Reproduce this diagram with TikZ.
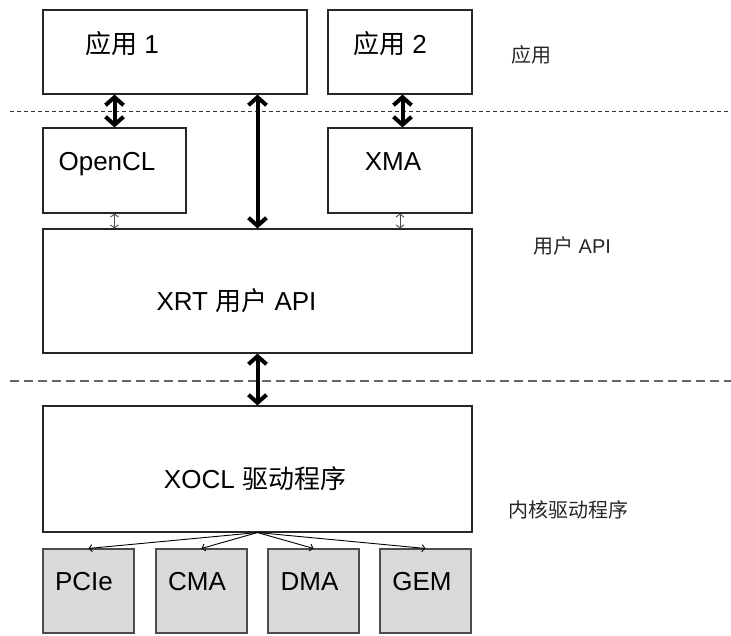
\documentclass[tikz,border=0pt]{standalone}
\usepackage{fontspec}
\setmainfont{Liberation Sans}
\newfontfamily\cjk{Noto Sans CJK SC}
\usetikzlibrary{arrows.meta}
\begin{document}
\begin{tikzpicture}[x=1pt,y=-1pt,
  box/.style={draw=black!85, line width=1.1pt, fill=white, inner sep=0pt},
  gbox/.style={draw=black!70, line width=1.1pt, fill=black!15, inner sep=0pt, minimum width=91pt, minimum height=84pt},
  big/.style={font=\fontsize{26}{30}\selectfont, inner sep=0pt, anchor=base},
  side/.style={font=\fontsize{20}{24}\selectfont, inner sep=0pt, text=black!85},
  dbl/.style={line width=4pt, {Straight Barb[length=8pt,width=18pt]}-{Straight Barb[length=8pt,width=18pt]}},
  slim/.style={line width=0.9pt, draw=black!70, {Straight Barb[length=3pt,width=8pt]}-{Straight Barb[length=3pt,width=8pt]}},
  fan/.style={line width=0.9pt, -{Straight Barb[length=3pt,width=7pt]}},
]
\useasboundingbox (0,0) rectangle (731,635);

% dashed separators
\draw[black!80, line width=0.9pt, dash pattern=on 4pt off 3pt] (10,111) -- (731,111);
\draw[black!60, line width=1.3pt, dash pattern=on 9pt off 5pt] (10,381) -- (731,381);

% boxes
\node[box, minimum width=264pt, minimum height=84pt] (app1) at (175,52) {};
\node[box, minimum width=144pt, minimum height=84pt] (app2) at (400,52) {};
\node[box, minimum width=143pt, minimum height=85pt] (opencl) at (114.5,170.5) {};
\node[box, minimum width=144pt, minimum height=85pt] (xma) at (400,170.5) {};
\node[box, minimum width=429pt, minimum height=124pt] (xrt) at (257.5,291) {};
\node[box, minimum width=429pt, minimum height=126pt] (xocl) at (257.5,469) {};
\node[gbox] (pcie) at (88.5,591) {};
\node[gbox] (cma) at (201.5,591) {};
\node[gbox] (dma) at (313.5,591) {};
\node[gbox] (gem) at (425.5,591) {};

% box texts
\node[big] (app1t) at (122,53) {{\cjk 应用} 1};
\node[big] (app2t) at (390,53) {{\cjk 应用} 2};
\node[big] (openclt) at (107,170) {OpenCL};
\node[big] (xmat) at (393,170) {XMA};
\node[big] (xrtt) at (236.5,310) {XRT {\cjk 用户} API};
\node[big] (xoclt) at (255,488) {XOCL {\cjk 驱动程序}};
\node[big] (pciet) at (84,590) {PCIe};
\node[big] (cmat) at (197,590) {CMA};
\node[big] (dmat) at (309.5,590) {DMA};
\node[big] (gemt) at (422,590) {GEM};

% side labels
\node[side] (l1) at (531,55) {\cjk 应用};
\node[side, anchor=base] (l2) at (572,253) {{\cjk 用户} API};
\node[side] (l3) at (568,510) {\cjk 内核驱动程序};

% connectors
\draw[dbl] (opencl.north |- app1.south) -- (opencl.north);
\draw[dbl] ([xshift=2.5pt]app2.south) -- ([xshift=2.5pt]xma.north);
\draw[dbl] (xrt.north |- app1.south) -- (xrt.north);
\draw[dbl] (xrt.south) -- (xocl.north);
\draw[slim] (opencl.south) -- (opencl.south |- xrt.north);
\draw[slim] (xma.south) -- (xma.south |- xrt.north);
\draw[fan] (xocl.south) -- (pcie.north);
\draw[fan] (xocl.south) -- (cma.north);
\draw[fan] (xocl.south) -- (dma.north);
\draw[fan] (xocl.south) -- (gem.north);
\end{tikzpicture}
\end{document}
